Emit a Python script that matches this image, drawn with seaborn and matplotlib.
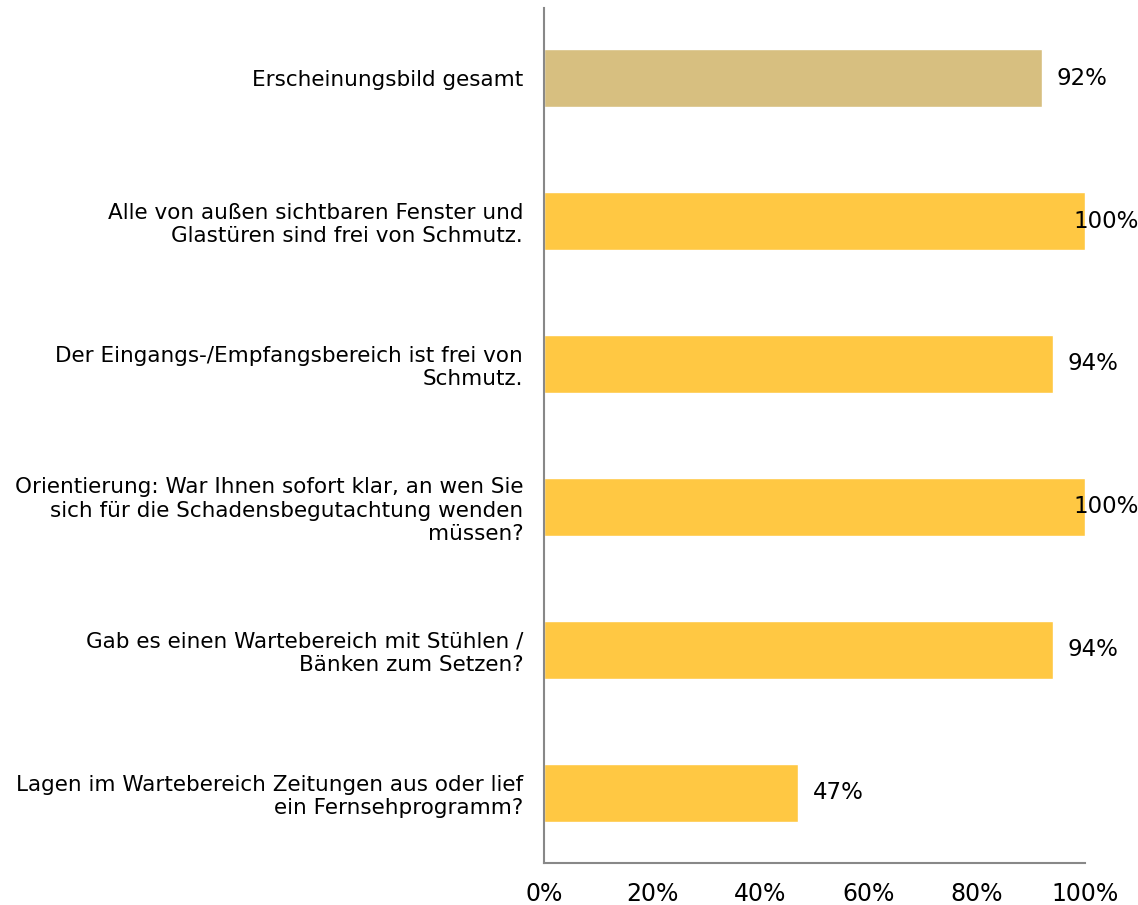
import matplotlib
matplotlib.use("Agg")
import matplotlib.pyplot as plt
import seaborn as sns
import pandas as pd
from matplotlib.ticker import PercentFormatter

# data
categories = [
    "Erscheinungsbild gesamt",
    "Alle von außen sichtbaren Fenster und\nGlastüren sind frei von Schmutz.",
    "Der Eingangs-/Empfangsbereich ist frei von\nSchmutz.",
    "Orientierung: War Ihnen sofort klar, an wen Sie\nsich für die Schadensbegutachtung wenden\nmüssen?",
    "Gab es einen Wartebereich mit Stühlen /\nBänken zum Setzen?",
    "Lagen im Wartebereich Zeitungen aus oder lief\nein Fernsehprogramm?",
]
values = [92, 100, 94, 100, 94, 47]
bar_colors = ["#D7BF80", "#FFC843", "#FFC843", "#FFC843", "#FFC843", "#FFC843"]

df = pd.DataFrame({"cat": categories, "val": values})

sns.set_style("white")
plt.rcParams["font.family"] = ["DejaVu Sans"]

fig = plt.figure(figsize=(11.38, 9.05), dpi=100)
ax = fig.add_axes([0.478, 0.0464, 0.4755, 0.9448])

sns.barplot(data=df, x="val", y="cat", hue="cat", palette=bar_colors,
            legend=False, width=0.4, orient="h", saturation=1, ax=ax)

ax.set_xlim(0, 100)
ax.set_ylim(5.49, -0.49)
ax.set_xticks([0, 20, 40, 60, 80, 100])
ax.xaxis.set_major_formatter(PercentFormatter(decimals=0))
ax.tick_params(axis="x", length=0, pad=14, labelsize=17, colors="black")
ax.tick_params(axis="y", length=0, pad=15, labelsize=15.5, colors="black")
ax.set_xlabel("")
ax.set_ylabel("")
for lbl in ax.get_yticklabels():
    lbl.set_ha("right")
    lbl.set_multialignment("right")
    lbl.set_linespacing(1.2)

for side in ["top", "right"]:
    ax.spines[side].set_visible(False)
for side in ["left", "bottom"]:
    ax.spines[side].set_color("#888888")
    ax.spines[side].set_linewidth(1.5)

# value labels
for i, v in enumerate(values):
    if v >= 99:
        ax.annotate(f"{v}%", xy=(100, i), xytext=(-12, 0), textcoords="offset pixels",
                    va="center", ha="left", fontsize=16.5, color="black",
                    annotation_clip=False)
    else:
        ax.annotate(f"{v}%", xy=(v, i), xytext=(15, 0), textcoords="offset pixels",
                    va="center", ha="left", fontsize=16.5, color="black")

fig.savefig("out.png", dpi=100)
